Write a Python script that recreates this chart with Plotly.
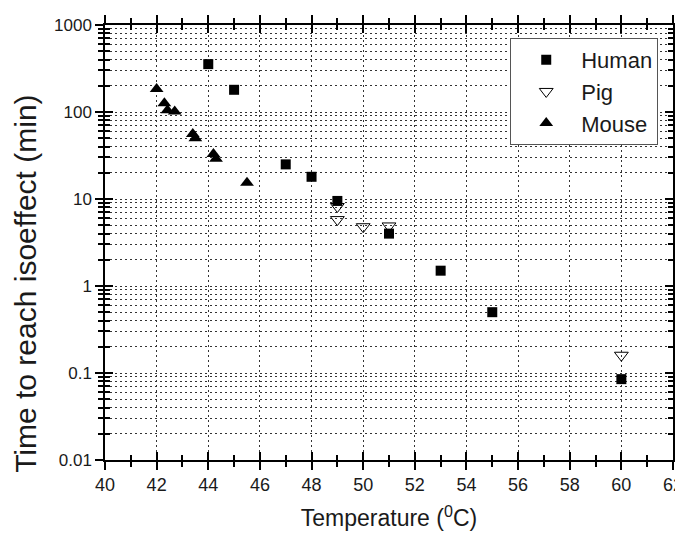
"""Time to reach isoeffect vs temperature for human, pig and mouse."""

import plotly.graph_objects as go

# data
temp_human = [44, 45, 47, 48, 49, 51, 53, 55, 60]
time_human = [355, 180, 25, 18, 9.5, 4.0, 1.5, 0.5, 0.085]

temp_pig = [49, 49, 50, 51, 60]
time_pig = [8.2, 5.8, 4.8, 4.9, 0.16]

temp_mouse = [42, 42.3, 42.42, 42.7, 43.4, 43.5, 44.2, 44.3, 45.5]
time_mouse = [184, 126, 105, 101, 56, 50, 33, 29, 15.4]

x_tick_vals = list(range(40, 63, 2))
y_tick_vals = [0.01, 0.1, 1, 10, 100, 1000]
y_tick_text = ["0.01", "0.1", "1", "10", "100", "1000"]
# 2..9 within each decade
y_minor_vals = [m * d for d in y_tick_vals[:-1] for m in range(2, 10)]

FONT = "Liberation Sans, Arial, sans-serif"
GRID_COLOR = "#333333"
GRID_DASH = "2px,3px"

fig = go.Figure()
fig.add_trace(go.Scatter(
    x=temp_human, y=time_human, mode="markers", name="Human",
    marker=dict(symbol="square", size=10, color="black"),
))
fig.add_trace(go.Scatter(
    x=temp_pig, y=time_pig, mode="markers", name="Pig",
    marker=dict(symbol="triangle-down-open", size=12, color="black",
                line=dict(width=1)),
))
fig.add_trace(go.Scatter(
    x=temp_mouse, y=time_mouse, mode="markers", name="Mouse",
    marker=dict(symbol="triangle-up", size=12, color="black"),
))
# empty trace so the overlay axes (inner half of the crossing ticks) get drawn
fig.add_trace(go.Scatter(x=[], y=[], xaxis="x2", yaxis="y2",
                         showlegend=False, hoverinfo="skip"))

axis_common = dict(showline=True, linecolor="black", linewidth=1.5,
                   tickcolor="black", tickwidth=1.5, ticklen=8,
                   zeroline=False, automargin=False)

# the page body adds an 8px offset, so the figure is 8px smaller than the window
fig.update_layout(
    width=675, height=528,
    margin=dict(l=97, r=10, t=17, b=76),
    paper_bgcolor="white", plot_bgcolor="white",
    font=dict(family=FONT, color="#1a1a1a"),
    showlegend=True,
    legend=dict(
        x=0.974, y=0.970, xanchor="right", yanchor="top",
        bgcolor="white", bordercolor="#555555", borderwidth=1,
        font=dict(size=22, family=FONT, color="#1a1a1a"),
        itemwidth=60,
    ),
    xaxis=dict(
        range=[40, 62], tickvals=x_tick_vals, ticks="outside", mirror="allticks",
        showgrid=True, gridcolor=GRID_COLOR, griddash=GRID_DASH, gridwidth=1,
        tickfont=dict(size=18), ticklabelstandoff=0, ticklabeloverflow="allow",
        minor=dict(dtick=1, ticks="outside", ticklen=5, tickcolor="black",
                   tickwidth=1.5, showgrid=False),
        title=dict(text="Temperature (<sup>0</sup>C)", font=dict(size=23),
                   standoff=16),
        **axis_common,
    ),
    yaxis=dict(
        type="log", range=[-2, 3], tickvals=y_tick_vals, ticktext=y_tick_text,
        ticks="outside", mirror="allticks",
        showgrid=True, gridcolor=GRID_COLOR, griddash=GRID_DASH, gridwidth=1,
        tickfont=dict(size=17), ticklabeloverflow="allow",
        minor=dict(tickvals=y_minor_vals, ticks="outside", ticklen=5,
                   tickcolor="black", tickwidth=1.5,
                   showgrid=True, gridcolor=GRID_COLOR, griddash=GRID_DASH,
                   gridwidth=1),
        **axis_common,
    ),
    xaxis2=dict(
        overlaying="x", matches="x", anchor="y2", tickvals=x_tick_vals,
        ticks="inside", mirror="allticks", showticklabels=False, showgrid=False,
        minor=dict(dtick=1, ticks="inside", ticklen=5, tickcolor="black",
                   tickwidth=1.5),
        **axis_common,
    ),
    yaxis2=dict(
        overlaying="y", matches="y", anchor="x2", type="log", tickvals=y_tick_vals,
        ticks="inside", mirror="allticks", showticklabels=False, showgrid=False,
        minor=dict(tickvals=y_minor_vals, ticks="inside", ticklen=5,
                   tickcolor="black", tickwidth=1.5),
        **axis_common,
    ),
)

# y title sits a bit below the plot centre in the original
fig.add_annotation(
    text="Time to reach isoeffect (min)", textangle=-90,
    xref="paper", yref="paper", x=-0.139, y=0.405,
    xanchor="center", yanchor="middle", showarrow=False,
    font=dict(size=30, family=FONT, color="#1a1a1a"),
)

fig.write_html("out.html")
